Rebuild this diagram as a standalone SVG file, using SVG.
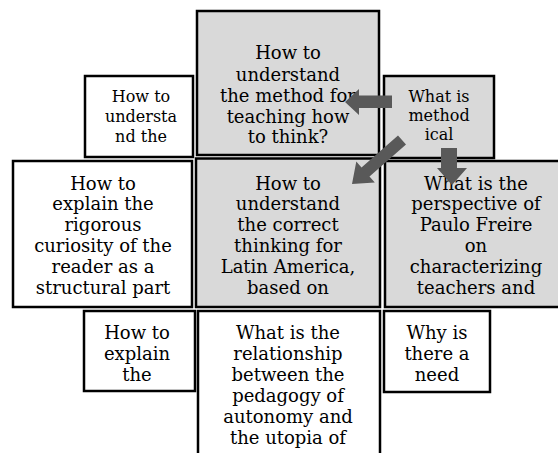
<svg xmlns="http://www.w3.org/2000/svg" width="558" height="453" viewBox="0 0 558 453">
<style>
.box{stroke:#000;stroke-width:2.5;}
.g{fill:#d9d9d9;}
.w{fill:#fff;}
.t{font-family:"DejaVu Serif","Liberation Serif",serif;fill:#000;text-anchor:middle;}
.l{font-size:18px;}
.s{font-size:16px;}
.arrow{fill:#595959;stroke:none;}
</style>
<rect width="558" height="453" fill="#fff"/>
<g id="node-top-left">
<rect class="box w" x="85" y="76" width="108" height="81"/>
<text class="t s"><tspan x="141" y="102">How to</tspan><tspan x="141" y="122">understa</tspan><tspan x="141" y="141.5">nd the</tspan></text>
</g>
<g id="node-top-center">
<rect class="box g" x="197" y="11" width="182" height="144"/>
<text class="t l"><tspan x="288" y="59">How to</tspan><tspan x="288" y="80.5">understand</tspan><tspan x="288" y="101.5">the method for</tspan><tspan x="288" y="122.5">teaching how</tspan><tspan x="288" y="143">to think?</tspan></text>
</g>
<g id="node-top-right">
<rect class="box g" x="384" y="76" width="110" height="82"/>
<text class="t s"><tspan x="439" y="102">What is</tspan><tspan x="439" y="121">method</tspan><tspan x="439" y="140">ical</tspan></text>
</g>
<g id="node-mid-left">
<rect class="box w" x="13" y="161" width="179" height="146"/>
<text class="t l"><tspan x="103" y="189.5">How to</tspan><tspan x="103" y="210">explain the</tspan><tspan x="103" y="231">rigorous</tspan><tspan x="103" y="252">curiosity of the</tspan><tspan x="103" y="272.5">reader as a</tspan><tspan x="103" y="293.5">structural part</tspan></text>
</g>
<g id="node-mid-center">
<rect class="box g" x="196" y="158.5" width="184" height="148.5"/>
<text class="t l"><tspan x="288" y="189.5">How to</tspan><tspan x="288" y="210">understand</tspan><tspan x="288" y="231">the correct</tspan><tspan x="288" y="252">thinking for</tspan><tspan x="288" y="272.5">Latin America,</tspan><tspan x="288" y="293.5">based on</tspan></text>
</g>
<g id="node-mid-right">
<rect class="box g" x="385" y="161" width="185" height="146"/>
<text class="t l"><tspan x="476" y="189.5">What is the</tspan><tspan x="476" y="210">perspective of</tspan><tspan x="476" y="231">Paulo Freire</tspan><tspan x="476" y="252">on</tspan><tspan x="476" y="272.5">characterizing</tspan><tspan x="476" y="293.5">teachers and</tspan></text>
</g>
<g id="node-bottom-left">
<rect class="box w" x="84" y="311" width="111" height="80"/>
<text class="t l"><tspan x="137" y="338.5">How to</tspan><tspan x="137" y="359.5">explain</tspan><tspan x="137" y="380.5">the</tspan></text>
</g>
<g id="node-bottom-center">
<rect class="box w" x="198" y="311" width="182" height="160"/>
<text class="t l"><tspan x="288" y="338.5">What is the</tspan><tspan x="288" y="359.5">relationship</tspan><tspan x="288" y="380.5">between the</tspan><tspan x="288" y="401.5">pedagogy of</tspan><tspan x="288" y="422.5">autonomy and</tspan><tspan x="288" y="443.5">the utopia of</tspan></text>
</g>
<g id="node-bottom-right">
<rect class="box w" x="384" y="311" width="106" height="81"/>
<text class="t l"><tspan x="437" y="338.5">Why is</tspan><tspan x="437" y="359.5">there a</tspan><tspan x="437" y="380.5">need</tspan></text>
</g>
<g id="connectors">
<polygon class="arrow" points="345,102 359,89 359,95.5 392,95.5 392,108 359,108 359,115"/>
<polygon class="arrow" points="352,184 374.8,182.6 369.5,176.6 406,144.5 398,135.5 361.5,167.6 356.3,161.6"/>
<polygon class="arrow" points="441,148 457,148 457,168 467,168 452,185 437,168 441,168"/>
</g>
</svg>
